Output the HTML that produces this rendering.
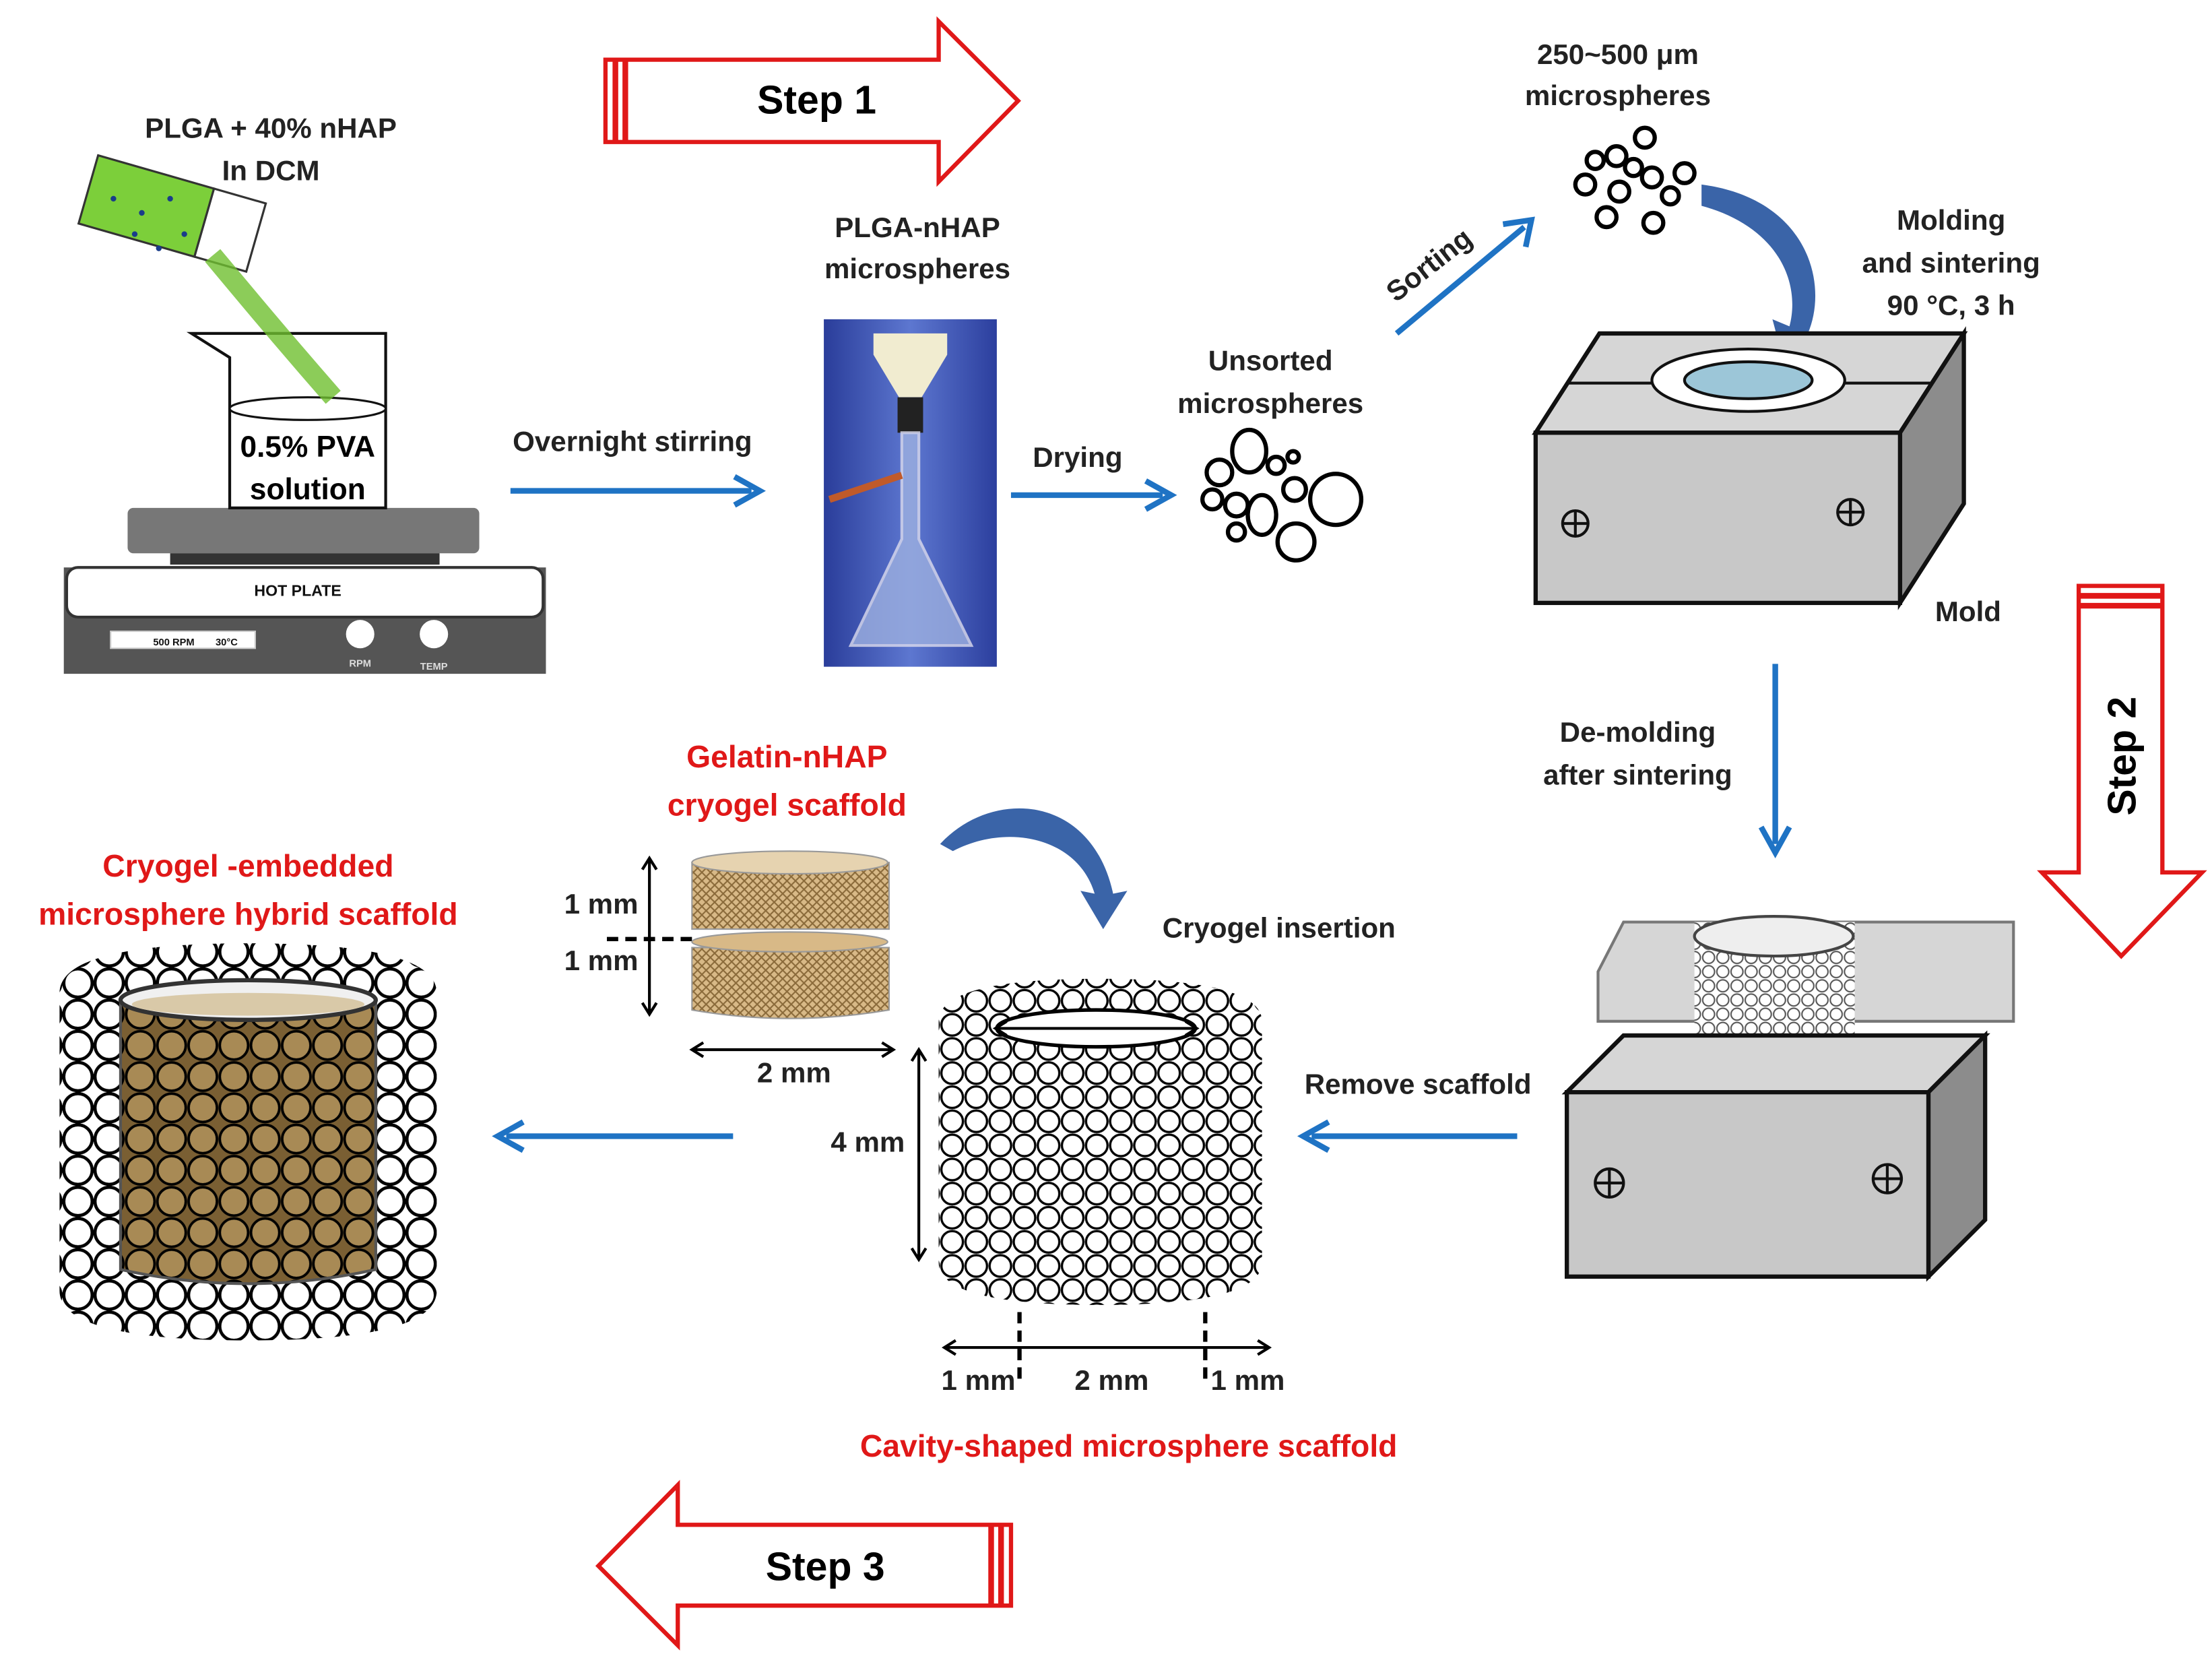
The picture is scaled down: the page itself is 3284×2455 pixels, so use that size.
<!DOCTYPE html>
<html><head><meta charset="utf-8"><style>
html,body{margin:0;padding:0;background:#fff;width:3284px;height:2455px;overflow:hidden}
svg{display:block}
text{font-family:"Liberation Sans",sans-serif;font-weight:bold}
</style></head><body>
<svg width="3284" height="2455" viewBox="0 0 1560 1166" xmlns="http://www.w3.org/2000/svg">
<defs>
<pattern id="circ" width="17" height="17" patternUnits="userSpaceOnUse">
<rect width="17" height="17" fill="#fff"/><circle cx="8.5" cy="8.5" r="7.6" fill="#fff" stroke="#000" stroke-width="1.6"/></pattern>
<pattern id="circB" width="22" height="22" patternUnits="userSpaceOnUse">
<rect width="22" height="22" fill="#fff"/><circle cx="11" cy="11" r="10" fill="#fff" stroke="#000" stroke-width="2.2"/></pattern>
<pattern id="circG" width="22" height="22" patternUnits="userSpaceOnUse">
<rect width="22" height="22" fill="#7a5f33"/><circle cx="11" cy="11" r="10" fill="#a88a55" stroke="#000" stroke-width="1.8"/></pattern>
<pattern id="mesh" width="6" height="6" patternUnits="userSpaceOnUse">
<rect width="6" height="6" fill="#d8b987"/><path d="M0 0L6 6M6 0L0 6" stroke="#8a6a3a" stroke-width="1"/></pattern>
<pattern id="circS" width="10" height="10" patternUnits="userSpaceOnUse">
<rect width="10" height="10" fill="#fff"/><circle cx="5" cy="5" r="4.2" fill="#fff" stroke="#555" stroke-width="1"/></pattern>
<linearGradient id="photo" x1="0" x2="1"><stop offset="0" stop-color="#2a3d9a"/><stop offset=".5" stop-color="#5d77d0"/><stop offset="1" stop-color="#2c3f9e"/></linearGradient>
<marker id="ab" markerWidth="8" markerHeight="8" refX="6" refY="4" orient="auto" markerUnits="userSpaceOnUse"><path d="M0 0L8 4L0 8" fill="none" stroke="#1f73c4" stroke-width="0"/></marker>
</defs>

<!-- Step arrows -->
<g fill="#fff" stroke="#e01818" stroke-width="3">
<path d="M427 42H662V15L718 71L662 128V100H427Z"/>
<path d="M1466 413H1525V615H1553L1496 674L1440 615H1466Z"/>
<path d="M713 1075H478V1047L422 1104L478 1160V1132H713Z"/>
</g>
<g stroke="#e01818" stroke-width="4"><line x1="434" y1="42" x2="434" y2="100"/><line x1="441" y1="42" x2="441" y2="100"/>
<line x1="1466" y1="420" x2="1525" y2="420"/><line x1="1466" y1="427" x2="1525" y2="427"/>
<line x1="706" y1="1075" x2="706" y2="1132"/><line x1="699" y1="1075" x2="699" y2="1132"/></g>
<text x="576" y="80" font-size="28" text-anchor="middle">Step 1</text>
<text x="582" y="1114" font-size="28" text-anchor="middle">Step 3</text>
<text transform="translate(1506,533) rotate(-90)" font-size="28" text-anchor="middle">Step 2</text>

<!-- Blue arrows -->
<g stroke="#1f73c4" stroke-width="4" fill="none">
<line x1="360" y1="346" x2="530" y2="346"/><path d="M518 336L536 346L518 356"/>
<line x1="713" y1="349" x2="820" y2="349"/><path d="M808 339L826 349L808 359"/>
<line x1="985" y1="235" x2="1075" y2="160"/><path d="M1060 158L1080 155L1076 174"/>
<line x1="1252" y1="468" x2="1252" y2="595"/><path d="M1242 583L1252 601L1262 583"/>
<line x1="1070" y1="801" x2="925" y2="801"/><path d="M937 791L919 801L937 811"/>
<line x1="517" y1="801" x2="357" y2="801"/><path d="M369 791L351 801L369 811"/>
</g>
<!-- curved fat arrows -->
<path d="M1200 130C1275 140 1290 200 1275 235L1285 238L1258 255L1250 225L1262 230C1270 200 1255 160 1200 145Z" fill="#3a64a8"/>
<path d="M663 595C700 555 770 560 785 630L795 628L778 655L762 628L772 630C760 590 710 580 672 600Z" fill="#3a64a8"/>

<!-- labels -->
<g font-size="20" text-anchor="middle" fill="#222">
<text x="191" y="97">PLGA + 40% nHAP</text><text x="191" y="127">In DCM</text>
<text x="446" y="318">Overnight stirring</text>
<text x="647" y="167">PLGA-nHAP</text><text x="647" y="196">microspheres</text>
<text x="760" y="329">Drying</text>
<text x="896" y="261">Unsorted</text><text x="896" y="291">microspheres</text>
<text transform="translate(1012,192) rotate(-38)">Sorting</text>
<text x="1141" y="45">250~500 μm</text><text x="1141" y="74">microspheres</text>
<text x="1376" y="162">Molding</text><text x="1376" y="192">and sintering</text><text x="1376" y="222">90 °C, 3 h</text>
<text x="1388" y="438">Mold</text>
<text x="1155" y="523">De-molding</text><text x="1155" y="553">after sintering</text>
<text x="902" y="661">Cryogel  insertion</text>
<text x="1000" y="771">Remove scaffold</text>
<text x="424" y="644">1 mm</text><text x="424" y="684">1 mm</text>
<text x="560" y="763">2 mm</text><text x="612" y="812">4 mm</text>
<text x="690" y="980">1 mm</text><text x="784" y="980">2 mm</text><text x="880" y="980">1 mm</text>
<text x="773" y="733" font-size="18">2mm</text>
</g>
<g font-size="22" text-anchor="middle" fill="#e01818">
<text x="555" y="541">Gelatin-nHAP</text><text x="555" y="575">cryogel scaffold</text>
<text x="175" y="618">Cryogel -embedded</text><text x="175" y="652">microsphere hybrid scaffold</text>
<text x="796" y="1027">Cavity-shaped microsphere scaffold</text>
</g>

<!-- hot plate -->
<rect x="90" y="358" width="248" height="32" rx="4" fill="#777"/>
<rect x="120" y="390" width="190" height="8" fill="#333"/>
<path d="M45 400H385V475H45Z" fill="#555"/>
<rect x="47" y="400" width="336" height="35" rx="8" fill="#fff" stroke="#333" stroke-width="2"/>
<text x="210" y="420" font-size="11" text-anchor="middle" fill="#111">HOT PLATE</text>
<rect x="78" y="445" width="102" height="12" fill="#fff" stroke="#ccc"/>
<text x="108" y="455" font-size="7" fill="#111">500 RPM</text><text x="152" y="455" font-size="7" fill="#111">30°C</text>
<circle cx="254" cy="447" r="10" fill="#fff"/><circle cx="306" cy="447" r="10" fill="#fff"/>
<text x="254" y="470" font-size="7" fill="#ddd" text-anchor="middle">RPM</text><text x="306" y="472" font-size="7" fill="#ddd" text-anchor="middle">TEMP</text>
<!-- beaker -->
<path d="M135 235H272V358H162V252Z" fill="#fff" stroke="#111" stroke-width="2"/>
<ellipse cx="217" cy="288" rx="55" ry="8" fill="#fff" stroke="#111" stroke-width="1.5"/>
<text x="217" y="322" font-size="21" text-anchor="middle">0.5% PVA</text><text x="217" y="352" font-size="21" text-anchor="middle">solution</text>
<!-- tube & pour -->
<g transform="rotate(16 120 150)"><rect x="60" y="125" width="85" height="50" fill="#7ccf3a" stroke="#333" stroke-width="1.5"/><rect x="145" y="125" width="38" height="50" fill="#fff" stroke="#333" stroke-width="1.5"/></g>
<path d="M150 180C175 210 200 240 235 280" stroke="#6fbf30" stroke-width="14" fill="none" opacity=".8"/>
<g fill="#1a3d8a"><circle cx="80" cy="140" r="2"/><circle cx="100" cy="150" r="2"/><circle cx="120" cy="140" r="2"/><circle cx="95" cy="165" r="2"/><circle cx="130" cy="165" r="2"/><circle cx="112" cy="175" r="2"/></g>
<!-- photo -->
<rect x="581" y="225" width="122" height="245" fill="url(#photo)"/>
<path d="M616 235H668V250L650 280H634L616 250Z" fill="#f1ecd0"/>
<rect x="633" y="280" width="18" height="25" fill="#222"/>
<path d="M636 305H648V380L685 455H600L636 380Z" fill="#9db0e0" stroke="#dde" stroke-width="2" opacity=".8"/>
<path d="M585 352L636 335" stroke="#c05a2a" stroke-width="5"/>

<!-- unsorted microspheres -->
<g fill="#fff" stroke="#000" stroke-width="3">
<ellipse cx="881" cy="318" rx="12" ry="15"/><circle cx="860" cy="333" r="9"/><circle cx="900" cy="328" r="6"/><circle cx="942" cy="352" r="18"/>
<circle cx="855" cy="352" r="7"/><circle cx="872" cy="356" r="8"/><ellipse cx="890" cy="363" rx="10" ry="14"/><circle cx="913" cy="345" r="8"/>
<circle cx="914" cy="382" r="13"/><circle cx="872" cy="375" r="6"/><circle cx="912" cy="322" r="4"/>
</g>
<!-- sorted -->
<g fill="#fff" stroke="#000" stroke-width="3">
<circle cx="1118" cy="130" r="7"/><circle cx="1140" cy="110" r="7"/><circle cx="1160" cy="97" r="7"/><circle cx="1142" cy="135" r="7"/>
<circle cx="1165" cy="125" r="7"/><circle cx="1188" cy="122" r="7"/><circle cx="1133" cy="153" r="7"/><circle cx="1166" cy="157" r="7"/>
<circle cx="1125" cy="113" r="6"/><circle cx="1178" cy="138" r="6"/><circle cx="1152" cy="118" r="6"/>
</g>
<!-- mold top -->
<path d="M1083 305L1128 235H1385L1340 305Z" fill="#d6d6d6" stroke="#111" stroke-width="3"/>
<path d="M1340 305L1385 235V355L1340 425Z" fill="#8c8c8c" stroke="#111" stroke-width="3"/>
<rect x="1083" y="305" width="257" height="120" fill="#c8c8c8" stroke="#111" stroke-width="3"/>
<line x1="1105" y1="270" x2="1362" y2="270" stroke="#111" stroke-width="2"/>
<ellipse cx="1233" cy="268" rx="68" ry="22" fill="#fff" stroke="#111" stroke-width="2"/>
<ellipse cx="1233" cy="268" rx="45" ry="13" fill="#9cc6d8" stroke="#111" stroke-width="2"/>
<g stroke="#111" stroke-width="2" fill="none"><circle cx="1111" cy="369" r="9"/><path d="M1102 369H1120M1111 360V378"/><circle cx="1305" cy="361" r="9"/><path d="M1296 361H1314M1305 352V370"/></g>
<!-- mold bottom -->
<path d="M1127 685L1145 650H1420L1420 720H1127Z" fill="#d6d6d6" stroke="#777" stroke-width="2"/>
<rect x="1195" y="650" width="113" height="85" fill="url(#circS)"/>
<ellipse cx="1251" cy="660" rx="56" ry="14" fill="#eee" stroke="#444" stroke-width="2"/>
<path d="M1105 770L1145 730H1400L1360 770Z" fill="#d6d6d6" stroke="#111" stroke-width="3"/>
<path d="M1360 770L1400 730V860L1360 900Z" fill="#8c8c8c" stroke="#111" stroke-width="3"/>
<rect x="1105" y="770" width="255" height="130" fill="#c8c8c8" stroke="#111" stroke-width="3"/>
<g stroke="#111" stroke-width="2" fill="none"><circle cx="1135" cy="834" r="10"/><path d="M1125 834H1145M1135 824V844"/><circle cx="1331" cy="831" r="10"/><path d="M1321 831H1341M1331 821V841"/></g>

<!-- cavity scaffold -->
<path d="M662 720Q662 690 775 690Q890 690 890 720V890Q890 920 775 920Q662 920 662 890Z" fill="url(#circ)"/>
<ellipse cx="773" cy="725" rx="70" ry="13" fill="#fff" stroke="#000" stroke-width="2.5"/>
<g stroke="#000" stroke-width="2" fill="none">
<path d="M703 725H843M710 720L702 725L710 730M836 720L844 725L836 730"/>
<path d="M648 740V888M643 748L648 740L653 748M643 880L648 888L653 880"/>
<path d="M666 950H895M674 945L666 950L674 955M887 945L895 950L887 955"/>
<path d="M719 925V975M850 925V975" stroke-dasharray="8 5" stroke-width="3"/>
<path d="M488 740H630M496 735L488 740L496 745M622 735L630 740L622 745"/>
<path d="M458 605V715M453 613L458 605L463 613M453 707L458 715L463 707"/>
<path d="M428 662H488" stroke-dasharray="8 5" stroke-width="3"/>
</g>
<!-- cryogel cylinder -->
<path d="M488 608V655H627V608Z" fill="url(#mesh)" stroke="#999"/>
<ellipse cx="557" cy="608" rx="69" ry="8" fill="#e6d3b0" stroke="#999"/>
<path d="M488 668V712Q557 724 627 712V668Z" fill="url(#mesh)" stroke="#999"/>
<ellipse cx="557" cy="664" rx="69" ry="7" fill="#d8b987" stroke="#999"/>

<!-- hybrid -->
<path d="M42 700Q42 665 175 665Q308 665 308 700V910Q308 945 175 945Q42 945 42 910Z" fill="url(#circB)"/>
<path d="M85 705V895Q175 915 265 895V705Z" fill="url(#circG)" stroke="#555" stroke-width="2"/>
<ellipse cx="175" cy="705" rx="90" ry="14" fill="#f0f0f0" stroke="#333" stroke-width="3"/>
<ellipse cx="175" cy="708" rx="82" ry="8" fill="#d9c9a8"/>
</svg>
</body></html>
